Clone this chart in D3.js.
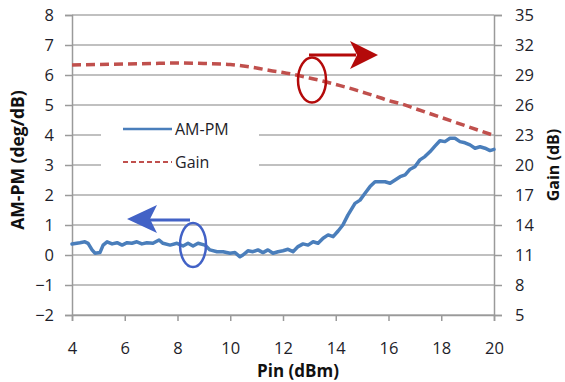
<!DOCTYPE html>
<html>
<head>
<meta charset="utf-8">
<script src="https://cdn.jsdelivr.net/npm/d3@7"></script>
<style>
  html, body { margin: 0; padding: 0; background: #fff; }
  svg { display: block; }
  text { font-family: "Open Sans", "Noto Sans", sans-serif; }
</style>
</head>
<body>
<svg id="chart" width="565" height="382"></svg>
<script>
// ---- data ----
const xTicks = [4, 6, 8, 10, 12, 14, 16, 18, 20];
const yLeftTicks = [-2, -1, 0, 1, 2, 3, 4, 5, 6, 7, 8];
const yRightTicks = [5, 8, 11, 14, 17, 20, 23, 26, 29, 32, 35];

const pinAmpm = [4.00, 4.30, 4.49, 4.61, 4.76, 4.87, 5.06, 5.18, 5.33, 5.52, 5.71, 5.90, 6.09, 6.27, 6.46, 6.65, 6.84, 7.07, 7.30, 7.45, 7.72, 7.98, 8.21, 8.40, 8.59, 8.78, 9.04, 9.23, 9.50, 9.73, 9.99, 10.18, 10.37, 10.48, 10.67, 10.86, 11.05, 11.24, 11.43, 11.62, 11.81, 12.00, 12.19, 12.38, 12.57, 12.76, 12.95, 13.14, 13.33, 13.52, 13.71, 13.90, 14.09, 14.27, 14.46, 14.73, 14.92, 15.11, 15.30, 15.49, 15.68, 15.87, 16.06, 16.25, 16.44, 16.63, 16.82, 17.00, 17.19, 17.38, 17.57, 17.76, 17.95, 18.14, 18.33, 18.52, 18.71, 18.90, 19.09, 19.28, 19.47, 19.66, 19.85, 20.00];
const ampm = [0.37, 0.41, 0.44, 0.39, 0.17, 0.06, 0.08, 0.33, 0.44, 0.37, 0.41, 0.33, 0.41, 0.39, 0.44, 0.37, 0.41, 0.39, 0.50, 0.39, 0.33, 0.39, 0.30, 0.39, 0.30, 0.39, 0.33, 0.17, 0.11, 0.11, 0.06, 0.08, -0.06, 0.00, 0.14, 0.11, 0.17, 0.08, 0.17, 0.06, 0.11, 0.14, 0.19, 0.11, 0.28, 0.37, 0.33, 0.44, 0.39, 0.56, 0.67, 0.61, 0.80, 1.00, 1.33, 1.72, 1.83, 2.06, 2.28, 2.44, 2.44, 2.44, 2.39, 2.50, 2.61, 2.67, 2.86, 2.94, 3.17, 3.28, 3.44, 3.63, 3.81, 3.78, 3.89, 3.89, 3.78, 3.74, 3.67, 3.56, 3.61, 3.56, 3.48, 3.52];

const pinGain = [4, 5, 6, 7, 8, 9, 10, 10.5, 11, 11.5, 12, 12.5, 13, 13.5, 14, 14.5, 15, 15.5, 16, 16.5, 17, 17.5, 18, 18.5, 19, 19.5, 20];
const gain = [30.0, 30.05, 30.1, 30.15, 30.2, 30.15, 30.05, 29.9, 29.7, 29.45, 29.25, 29.0, 28.7, 28.4, 28.05, 27.7, 27.3, 26.9, 26.45, 26.1, 25.65, 25.2, 24.75, 24.3, 23.85, 23.4, 22.95];

const seriesNames = ["AM-PM", "Gain"];

// ---- layout ----
const svg = d3.select("#chart");
const L = 72, R = 494, T = 15, B = 315;
const x = d3.scaleLinear().domain([4, 20]).range([L, R]);
const yL = d3.scaleLinear().domain([-2, 8]).range([B, T]);
const yR = d3.scaleLinear().domain([5, 35]).range([B, T]);

const gridColor = "#ababab";
const textColor = "#1e1e2a";

// gridlines
svg.append("g").selectAll("line").data(yLeftTicks).join("line")
  .attr("x1", L).attr("x2", R)
  .attr("y1", d => yL(d)).attr("y2", d => yL(d))
  .attr("stroke", gridColor).attr("stroke-width", 1.5);

// axes
const axL = svg.append("g").attr("transform", `translate(${L},0)`)
  .call(d3.axisLeft(yL).tickValues(yLeftTicks).tickSize(7).tickPadding(11).tickFormat(d3.format("d")));
const axR = svg.append("g").attr("transform", `translate(${R},0)`)
  .call(d3.axisRight(yR).tickValues(yRightTicks).tickSize(8).tickPadding(13).tickFormat(d3.format("d")));
const axB = svg.append("g").attr("transform", `translate(0,${B})`)
  .call(d3.axisBottom(x).tickValues(xTicks).tickSize(6).tickPadding(21).tickFormat(d3.format("d")));

[axL, axR, axB].forEach(g => {
  g.select(".domain").attr("stroke", "#9a9a9a").attr("stroke-width", 1.5);
  g.selectAll(".tick line").attr("stroke", "#9a9a9a").attr("stroke-width", 1.5);
  g.selectAll(".tick text").attr("fill", textColor).attr("font-size", 16.5)
    .attr("font-family", "'Open Sans', sans-serif");
});

// legend box (white background hiding gridlines)
const lg = svg.append("g");
lg.append("rect").attr("x", 101).attr("y", 112).attr("width", 158).attr("height", 70).attr("fill", "#fff");

// series lines
const lineA = d3.line().x((d, i) => x(pinAmpm[i])).y(d => yL(d));
svg.append("path").datum(ampm).attr("d", lineA)
  .attr("fill", "none").attr("stroke", "#4A7EBB").attr("stroke-width", 3.5)
  .attr("stroke-linejoin", "round").attr("stroke-linecap", "round");

const lineG = d3.line().curve(d3.curveMonotoneX).x((d, i) => x(pinGain[i])).y(d => yR(d));
svg.append("path").datum(gain).attr("d", lineG)
  .attr("fill", "none").attr("stroke", "#C0504D").attr("stroke-width", 3.5)
  .attr("stroke-dasharray", "9,5").attr("stroke-linecap", "butt");

// legend items
lg.append("line").attr("x1", 123).attr("x2", 172).attr("y1", 129).attr("y2", 129)
  .attr("stroke", "#4A7EBB").attr("stroke-width", 2.5);
lg.append("text").attr("x", 175).attr("y", 129).attr("dy", "0.35em")
  .attr("font-size", 16).attr("fill", textColor).text(seriesNames[0]);
lg.append("line").attr("x1", 123).attr("x2", 172).attr("y1", 162).attr("y2", 162)
  .attr("stroke", "#C0504D").attr("stroke-width", 2).attr("stroke-dasharray", "5,3");
lg.append("text").attr("x", 175).attr("y", 162).attr("dy", "0.35em")
  .attr("font-size", 16).attr("fill", textColor).text(seriesNames[1]);

// annotations
const blue = "#4262C6", red = "#B40A0A";
svg.append("ellipse").attr("cx", 193).attr("cy", 245).attr("rx", 13).attr("ry", 22)
  .attr("fill", "none").attr("stroke", blue).attr("stroke-width", 2.5);
svg.append("line").attr("x1", 190).attr("x2", 150).attr("y1", 220).attr("y2", 220)
  .attr("stroke", blue).attr("stroke-width", 3);
svg.append("path").attr("d", "M127,219 L157,205 L150,219 L157,233 Z").attr("fill", blue);

svg.append("ellipse").attr("cx", 312).attr("cy", 80).attr("rx", 14).attr("ry", 22.5)
  .attr("fill", "none").attr("stroke", red).attr("stroke-width", 2.5);
svg.append("line").attr("x1", 309).attr("x2", 356).attr("y1", 55).attr("y2", 55)
  .attr("stroke", red).attr("stroke-width", 3);
svg.append("path").attr("d", "M378,55 L350,41 L357,55 L350,69 Z").attr("fill", red);

// axis titles
svg.append("text").attr("transform", "translate(18,160) rotate(-90)")
  .attr("text-anchor", "middle").attr("dy", "0.35em")
  .attr("font-size", 17.5).attr("font-weight", "bold").attr("fill", "#111").text("AM-PM (deg/dB)");
svg.append("text").attr("transform", "translate(553,165) rotate(-90)")
  .attr("text-anchor", "middle").attr("dy", "0.35em")
  .attr("font-size", 16).attr("font-weight", "bold").attr("fill", "#111").text("Gain (dB)");
svg.append("text").attr("x", 298).attr("y", 371).attr("text-anchor", "middle").attr("dy", "0.35em")
  .attr("font-size", 17).attr("font-weight", "bold").attr("fill", "#111").text("Pin (dBm)");
</script>
</body>
</html>
